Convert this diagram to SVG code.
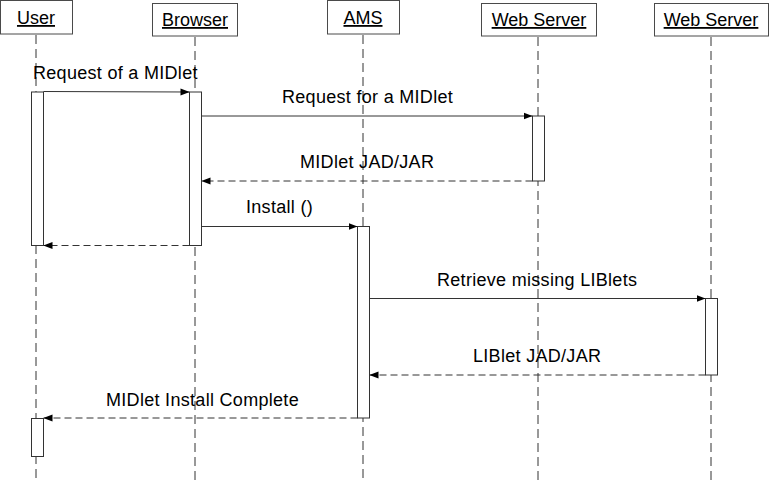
<svg xmlns="http://www.w3.org/2000/svg" width="770" height="482" viewBox="0 0 770 482">
<style>
.box{fill:#fff;stroke:#4a4a4a;stroke-width:1}
.life{stroke:#333;stroke-width:1;stroke-dasharray:9,5;fill:none}
.act{fill:#fff;stroke:#333;stroke-width:1}
.msg{stroke:#333;stroke-width:1;fill:none;marker-end:url(#ah)}
.ret{stroke:#333;stroke-width:1;fill:none;stroke-dasharray:7,4;marker-end:url(#ah)}
text{font-family:"Liberation Sans",Arial,sans-serif;font-size:18px;fill:#000}
.hd{text-anchor:middle;text-decoration:underline}
.lb{letter-spacing:0.3px}
</style>
<defs>
<marker id="ah" markerWidth="9" markerHeight="8" refX="9" refY="4" orient="auto" markerUnits="userSpaceOnUse">
<path d="M0,0.5 L9,4 L0,7.5 Z" fill="#000"/>
</marker>
</defs>
<g id="lifelines">
<line class="life" x1="36" y1="35" x2="36" y2="482"/>
<line class="life" x1="195" y1="37" x2="195" y2="482"/>
<line class="life" x1="363" y1="35" x2="363" y2="482"/>
<line class="life" x1="538" y1="37" x2="538" y2="482"/>
<line class="life" x1="711" y1="37" x2="711" y2="482"/>
</g>
<g id="user"><rect class="box" x="0.5" y="0.5" width="72" height="33.5"/><text class="hd" x="36" y="24">User</text></g>
<g id="browser"><rect class="box" x="152.5" y="3.5" width="85" height="32.5"/><text class="hd" x="195" y="26">Browser</text></g>
<g id="ams"><rect class="box" x="327.5" y="0.5" width="72" height="33.5"/><text class="hd" x="363" y="24">AMS</text></g>
<g id="webserver1"><rect class="box" x="481.5" y="3.5" width="115" height="32.5"/><text class="hd" x="539" y="26">Web Server</text></g>
<g id="webserver2"><rect class="box" x="654.5" y="3.5" width="114" height="32.5"/><text class="hd" x="711" y="26">Web Server</text></g>
<g id="activations">
<rect class="act" x="31.5" y="92" width="12" height="153.5"/>
<rect class="act" x="189.5" y="92" width="12" height="153.5"/>
<rect class="act" x="532.5" y="116" width="12" height="65"/>
<rect class="act" x="357.5" y="226.5" width="12" height="191.5"/>
<rect class="act" x="705.5" y="298.5" width="12" height="76.5"/>
<rect class="act" x="31.5" y="418.5" width="12" height="38"/>
</g>
<g id="connectors">
<line class="msg" x1="43.5" y1="91.5" x2="189.5" y2="92"/>
<line class="msg" x1="201.5" y1="116" x2="532.5" y2="116"/>
<line class="ret" x1="532.5" y1="181" x2="201.5" y2="181"/>
<line class="msg" x1="201.5" y1="226.5" x2="357.5" y2="226.5"/>
<line class="ret" x1="189.5" y1="245.5" x2="43.5" y2="245.5"/>
<line class="msg" x1="369.5" y1="298.5" x2="705.5" y2="298.5"/>
<line class="ret" x1="705.5" y1="375" x2="369.5" y2="375"/>
<line class="ret" x1="357.5" y1="418" x2="43.5" y2="418"/>
</g>
<g id="labels">
<text class="lb" x="33" y="79">Request of a MIDlet</text>
<text class="lb" x="282" y="103">Request for a MIDlet</text>
<text class="lb" x="300" y="168">MIDlet JAD/JAR</text>
<text class="lb" x="246" y="213">Install ()</text>
<text class="lb" x="437" y="286">Retrieve missing LIBlets</text>
<text class="lb" x="473" y="362">LIBlet JAD/JAR</text>
<text class="lb" x="106" y="406">MIDlet Install Complete</text>
</g>
</svg>
